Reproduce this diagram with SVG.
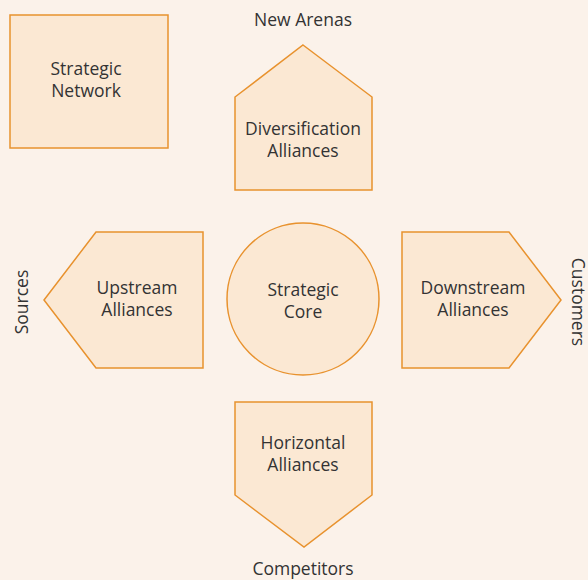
<svg xmlns="http://www.w3.org/2000/svg" width="588" height="580" viewBox="0 0 588 580">
  <style>
    .shape { fill: #fbe8d3; stroke: #e8922e; stroke-width: 1.5; }
    text { font-family: "Open Sans", "Liberation Sans", sans-serif; font-size: 17.5px; fill: #333333; text-anchor: middle; }
  </style>
  <rect width="588" height="580" fill="#fbf2ea"/>

  <g id="strategic-network">
    <rect class="shape" x="10" y="15" width="158" height="133"/>
    <text x="86" y="75">Strategic</text>
    <text x="86" y="97">Network</text>
  </g>

  <g id="diversification-alliances">
    <polygon class="shape" points="303,45 372,97 372,190 235,190 235,97"/>
    <text x="303" y="135">Diversification</text>
    <text x="303" y="157">Alliances</text>
  </g>

  <g id="upstream-alliances">
    <polygon class="shape" points="44,300 96,232 203,232 203,368 96,368"/>
    <text x="137" y="294">Upstream</text>
    <text x="137" y="316">Alliances</text>
  </g>

  <g id="strategic-core">
    <circle class="shape" cx="303" cy="299" r="76"/>
    <text x="303" y="296">Strategic</text>
    <text x="303" y="318">Core</text>
  </g>

  <g id="downstream-alliances">
    <polygon class="shape" points="402,232 509,232 561,300 509,368 402,368"/>
    <text x="473" y="294">Downstream</text>
    <text x="473" y="316">Alliances</text>
  </g>

  <g id="horizontal-alliances">
    <polygon class="shape" points="235,402 372,402 372,495 304,547 235,495"/>
    <text x="303" y="449">Horizontal</text>
    <text x="303" y="471">Alliances</text>
  </g>

  <g id="direction-labels">
    <text x="303" y="26">New Arenas</text>
    <text x="303" y="575">Competitors</text>
    <text transform="translate(28,302) rotate(-90)">Sources</text>
    <text transform="translate(572,302) rotate(90)">Customers</text>
  </g>

  <g id="connectors"></g>
</svg>
